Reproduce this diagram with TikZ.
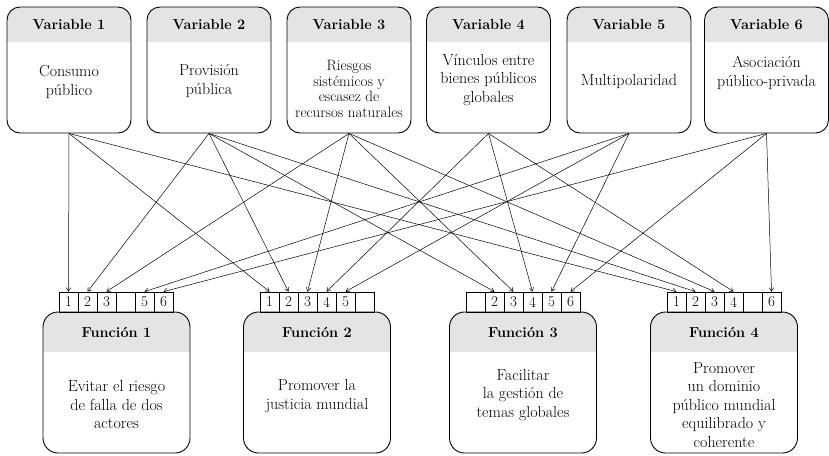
\documentclass[tikz,border=0pt]{standalone}
\usetikzlibrary{arrows.meta}
\definecolor{hdr}{gray}{0.895}
\tikzset{
  x=1pt, y=-1pt,
  varbox/.style={draw, line width=0.9pt, rounded corners=13pt, minimum width=124pt, minimum height=126pt, inner sep=0pt,
    path picture={\fill[hdr, sharp corners] (path picture bounding box.north west) rectangle ([yshift=-35pt]path picture bounding box.north east);}},
  funbox/.style={draw, line width=0.9pt, rounded corners=15pt, minimum width=147pt, minimum height=141pt, inner sep=0pt,
    path picture={\fill[hdr, sharp corners] (path picture bounding box.north west) rectangle ([yshift=-40pt]path picture bounding box.north east);}},
  cell/.style={draw, line width=0.7pt, minimum width=19pt, minimum height=20pt, inner sep=0pt, font=\fontsize{15}{15}\selectfont},
  hd/.style={inner sep=0pt, font=\fontsize{14.5}{17}\selectfont\bfseries},
  bd/.style={align=center, inner sep=0pt, font=\fontsize{16}{18.5}\selectfont},
  bdsmall/.style={align=center, inner sep=0pt, font=\fontsize{15}{15.8}\selectfont},
  arr/.style={-{Straight Barb[length=3.5pt,width=4.5pt]}, line width=0.5pt},
}
\begin{document}
\begin{tikzpicture}
\useasboundingbox (0,0) rectangle (829,455);
% variable boxes
\node[varbox] (v1) at (69,70) {};
\node[varbox] (v2) at (209,70) {};
\node[varbox] (v3) at (349,70) {};
\node[varbox] (v4) at (488.5,70) {};
\node[varbox] (v5) at (629,70) {};
\node[varbox] (v6) at (766.5,70) {};
\node[hd] (v1h) at (69,25) {Variable 1};
\node[hd] (v2h) at (209,25) {Variable 2};
\node[hd] (v3h) at (349,25) {Variable 3};
\node[hd] (v4h) at (488.5,25) {Variable 4};
\node[hd] (v5h) at (629,25) {Variable 5};
\node[hd] (v6h) at (766.5,25) {Variable 6};
\node[bd] (v1t) at (69,82) {Consumo\\público};
\node[bd] (v2t) at (209,81) {Provisión\\pública};
\node[bdsmall] (v3t) at (349,89) {Riesgos\\sistémicos y\\escasez de\\recursos naturales};
\node[bd] (v4t) at (488.5,80) {Vínculos entre\\bienes públicos\\globales};
\node[bd] (v5t) at (629,82) {Multipolaridad};
\node[bd] (v6t) at (766.5,73) {Asociación\\público-privada};
% function boxes
\node[funbox] (f1) at (116.5,382.5) {};
\node[funbox] (f2) at (317,382.5) {};
\node[funbox] (f3) at (523,382.5) {};
\node[funbox] (f4) at (724,382.5) {};
\node[hd] (f1h) at (116.5,332) {Función 1};
\node[hd] (f2h) at (317,332) {Función 2};
\node[hd] (f3h) at (523,332) {Función 3};
\node[hd] (f4h) at (724,332) {Función 4};
\node[bd] (f1t) at (116.5,405) {Evitar el riesgo\\de falla de dos\\actores};
\node[bd] (f2t) at (317,396) {Promover la\\justicia mundial};
\node[bd] (f3t) at (523,395) {Facilitar\\la gestión de\\temas globales};
\node[bd] (f4t) at (724,405) {Promover\\un dominio\\público mundial\\equilibrado y\\coherente};
% cells
\node[cell] (a1) at (68.5,302) {1};
\node[cell] (a2) at (87.5,302) {2};
\node[cell] (a3) at (106.5,302) {3};
\node[cell] (a4) at (125.5,302) {};
\node[cell] (a5) at (144.5,302) {5};
\node[cell] (a6) at (163.5,302) {6};
\node[cell] (b1) at (269.5,302) {1};
\node[cell] (b2) at (288.5,302) {2};
\node[cell] (b3) at (307.5,302) {3};
\node[cell] (b4) at (326.5,302) {4};
\node[cell] (b5) at (345.5,302) {5};
\node[cell] (b6) at (364.5,302) {};
\node[cell] (c1) at (475.5,302) {};
\node[cell] (c2) at (494.5,302) {2};
\node[cell] (c3) at (513.5,302) {3};
\node[cell] (c4) at (532.5,302) {4};
\node[cell] (c5) at (551.5,302) {5};
\node[cell] (c6) at (570.5,302) {6};
\node[cell] (d1) at (676.5,302) {1};
\node[cell] (d2) at (695.5,302) {2};
\node[cell] (d3) at (714.5,302) {3};
\node[cell] (d4) at (733.5,302) {4};
\node[cell] (d5) at (752.5,302) {};
\node[cell] (d6) at (771.5,302) {6};
% connectors
\draw[arr] (v1.south) -- (a1.north);
\draw[arr] (v1.south) -- (b1.north);
\draw[arr] (v1.south) -- (d1.north);
\draw[arr] (v2.south) -- (a2.north);
\draw[arr] (v2.south) -- (b2.north);
\draw[arr] (v2.south) -- (c2.north);
\draw[arr] (v2.south) -- (d2.north);
\draw[arr] (v3.south) -- (a3.north);
\draw[arr] (v3.south) -- (b3.north);
\draw[arr] (v3.south) -- (c3.north);
\draw[arr] (v3.south) -- (d3.north);
\draw[arr] (v4.south) -- (b4.north);
\draw[arr] (v4.south) -- (c4.north);
\draw[arr] (v4.south) -- (d4.north);
\draw[arr] (v5.south) -- (a5.north);
\draw[arr] (v5.south) -- (b5.north);
\draw[arr] (v5.south) -- (c5.north);
\draw[arr] (v6.south) -- (a6.north);
\draw[arr] (v6.south) -- (c6.north);
\draw[arr] (v6.south) -- (d6.north);
\end{tikzpicture}
\end{document}
